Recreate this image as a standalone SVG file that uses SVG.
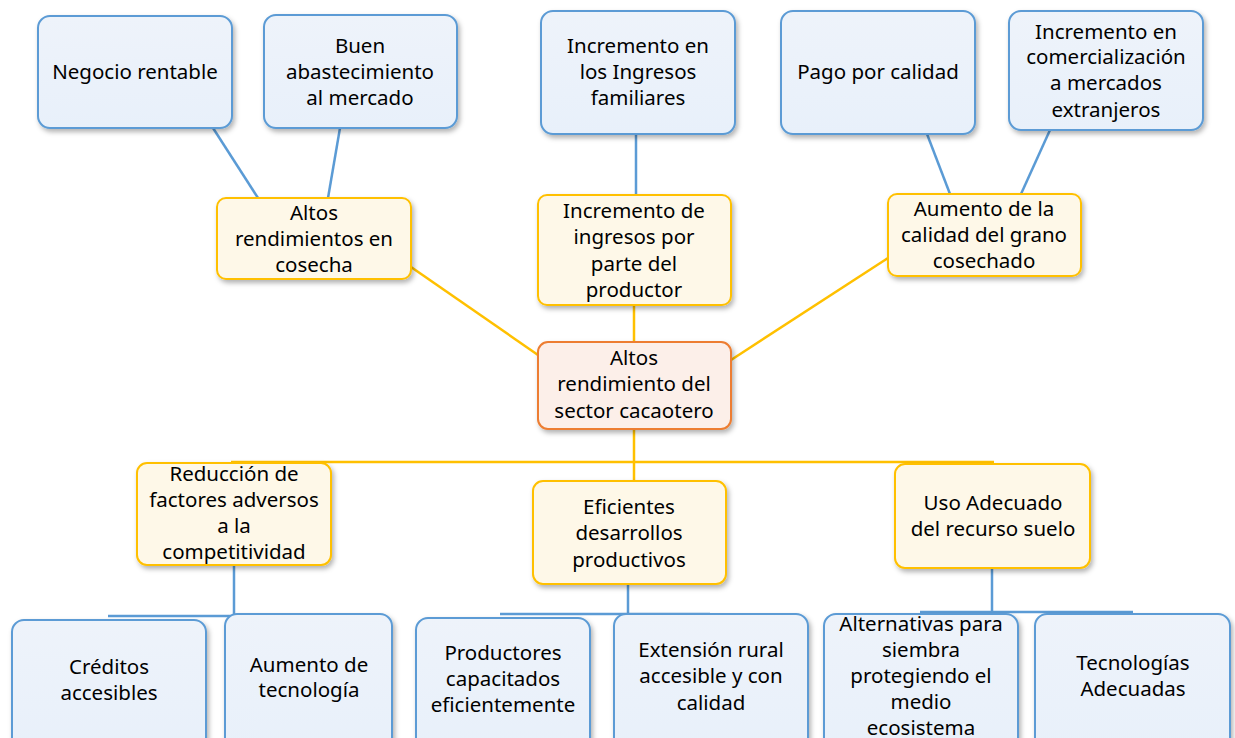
<svg xmlns="http://www.w3.org/2000/svg" width="1235" height="738" viewBox="0 0 1235 738">
<defs>
<filter id="sh" x="-10%" y="-10%" width="125%" height="130%"><feDropShadow dx="2" dy="3" stdDeviation="2.5" flood-color="#000" flood-opacity="0.3"/></filter>
<linearGradient id="gb" x1="0" y1="0" x2="0" y2="1"><stop offset="0" stop-color="#eef3fa"/><stop offset="1" stop-color="#e8f0fa"/></linearGradient>
<style>
.b{fill:url(#gb);stroke:#5b9bd5;stroke-width:2;filter:url(#sh)}
.y{fill:#fef8e8;stroke:#ffc000;stroke-width:2;filter:url(#sh)}
.o{fill:#fcefe9;stroke:#ed7d31;stroke-width:2;filter:url(#sh)}
text{font-family:"Noto Sans","Liberation Sans",sans-serif;font-size:20.5px;fill:#000;text-anchor:middle}
.cy{stroke:#ffc000;stroke-width:2.5;fill:none}
.cb{stroke:#5b9bd5;stroke-width:2.5;fill:none}
</style>
</defs>
<rect width="1235" height="738" fill="#fff"/>
<g id="connectors">
<line class="cb" x1="213" y1="128" x2="258" y2="198"/>
<line class="cb" x1="340" y1="128" x2="328" y2="198"/>
<line class="cb" x1="636" y1="134" x2="636" y2="195"/>
<line class="cb" x1="927" y1="134" x2="950" y2="194"/>
<line class="cb" x1="1050" y1="130" x2="1021" y2="194"/>
<line class="cy" x1="411" y1="267" x2="538" y2="355"/>
<line class="cy" x1="634" y1="305" x2="634" y2="342"/>
<line class="cy" x1="731" y1="360" x2="888" y2="258"/>
<line class="cy" x1="634" y1="429" x2="634" y2="481"/>
<line class="cy" x1="231" y1="462" x2="994" y2="462"/>
<line class="cb" x1="234" y1="565" x2="234" y2="615"/>
<line class="cb" x1="108" y1="616" x2="308" y2="616"/>
<line class="cb" x1="628" y1="584" x2="628" y2="613"/>
<line class="cb" x1="500" y1="614" x2="710" y2="614"/>
<line class="cb" x1="992" y1="568" x2="992" y2="611"/>
<line class="cb" x1="920" y1="612" x2="1133" y2="612"/>
</g>
<g id="n1"><rect class="b" x="38" y="16" width="194" height="112" rx="12"/><text x="135" y="79">Negocio rentable</text></g>
<g id="n2"><rect class="b" x="264" y="15" width="193" height="113" rx="12"/><text x="360" y="53">Buen</text><text x="360" y="79">abastecimiento</text><text x="360" y="105">al mercado</text></g>
<g id="n3"><rect class="b" x="541" y="11" width="194" height="123" rx="12"/><text x="638" y="53">Incremento en</text><text x="638" y="79">los Ingresos</text><text x="638" y="105">familiares</text></g>
<g id="n4"><rect class="b" x="781" y="11" width="194" height="123" rx="12"/><text x="878" y="79">Pago por calidad</text></g>
<g id="n5"><rect class="b" x="1009" y="11" width="194" height="119" rx="12"/><text x="1106" y="39">Incremento en</text><text x="1106" y="64">comercialización</text><text x="1106" y="90">a mercados</text><text x="1106" y="117">extranjeros</text></g>
<g id="n6"><rect class="y" x="217" y="198" width="194" height="81" rx="9"/><text x="314" y="220">Altos</text><text x="314" y="246">rendimientos en</text><text x="314" y="272">cosecha</text></g>
<g id="n7"><rect class="y" x="538" y="195" width="193" height="110" rx="9"/><text x="634" y="218">Incremento de</text><text x="634" y="244">ingresos por</text><text x="634" y="271">parte del</text><text x="634" y="297">productor</text></g>
<g id="n8"><rect class="y" x="888" y="194" width="193" height="82" rx="9"/><text x="984" y="216">Aumento de la</text><text x="984" y="242">calidad del grano</text><text x="984" y="268">cosechado</text></g>
<g id="n9"><rect class="o" x="538" y="342" width="193" height="87" rx="10"/><text x="634" y="365">Altos</text><text x="634" y="391">rendimiento del</text><text x="634" y="418">sector cacaotero</text></g>
<g id="n10"><rect class="y" x="137" y="463" width="194" height="102" rx="10"/><text x="234" y="481">Reducción de</text><text x="234" y="507">factores adversos</text><text x="234" y="533">a la</text><text x="234" y="559">competitividad</text></g>
<g id="n11"><rect class="y" x="533" y="481" width="193" height="103" rx="10"/><text x="629" y="514">Eficientes</text><text x="629" y="540">desarrollos</text><text x="629" y="567">productivos</text></g>
<g id="n12"><rect class="y" x="895" y="464" width="195" height="104" rx="10"/><text x="993" y="510">Uso Adecuado</text><text x="993" y="536">del recurso suelo</text></g>
<g id="n13"><rect class="b" x="12" y="620" width="194" height="130" rx="12"/><text x="109" y="674">Créditos</text><text x="109" y="700">accesibles</text></g>
<g id="n14"><rect class="b" x="225" y="614" width="167" height="136" rx="12"/><text x="309" y="672">Aumento de</text><text x="309" y="697">tecnología</text></g>
<g id="n15"><rect class="b" x="416" y="618" width="174" height="132" rx="12"/><text x="503" y="660">Productores</text><text x="503" y="686">capacitados</text><text x="503" y="712">eficientemente</text></g>
<g id="n16"><rect class="b" x="614" y="614" width="194" height="136" rx="12"/><text x="711" y="657">Extensión rural</text><text x="711" y="683">accesible y con</text><text x="711" y="710">calidad</text></g>
<g id="n17"><rect class="b" x="824" y="614" width="194" height="136" rx="12"/><text x="921" y="631">Alternativas para</text><text x="921" y="657">siembra</text><text x="921" y="683">protegiendo el</text><text x="921" y="709">medio</text><text x="921" y="735">ecosistema</text></g>
<g id="n18"><rect class="b" x="1035" y="614" width="195" height="136" rx="12"/><text x="1133" y="670">Tecnologías</text><text x="1133" y="696">Adecuadas</text></g>
</svg>
